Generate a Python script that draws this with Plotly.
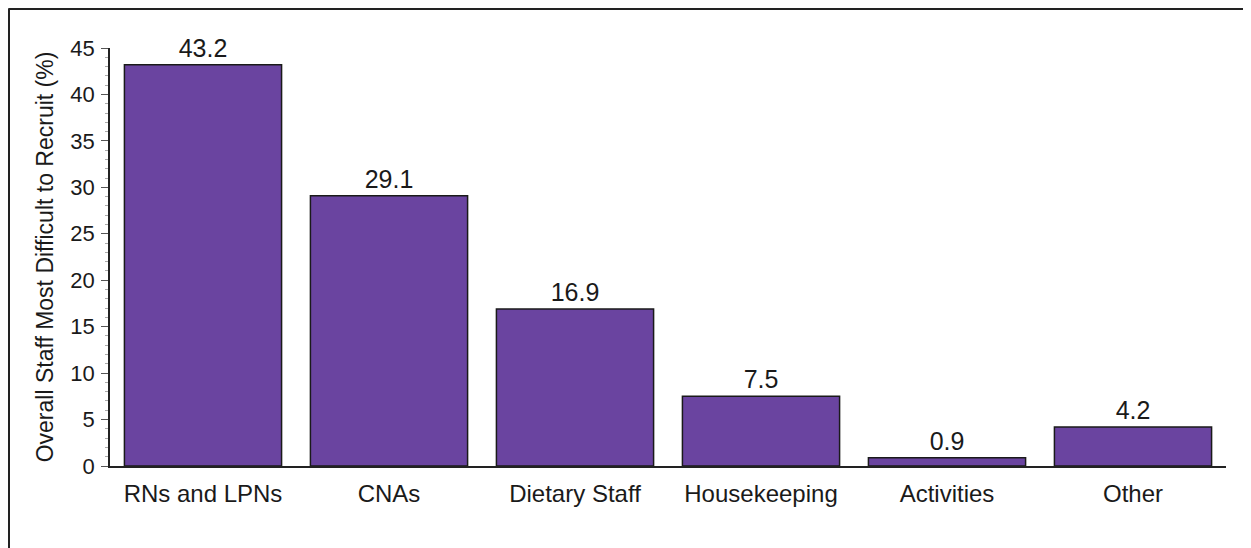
import plotly.graph_objects as go

categories = ["RNs and LPNs", "CNAs", "Dietary Staff", "Housekeeping", "Activities", "Other"]
values = [43.2, 29.1, 16.9, 7.5, 0.9, 4.2]
y_ticks = [0, 5, 10, 15, 20, 25, 30, 35, 40, 45]

FONT = "Liberation Sans, Arial, sans-serif"
W, H = 1243, 540
L, R, T, B = 102, 25, 40, 82
pw, ph = W - L - R, H - T - B

fig = go.Figure()
fig.add_trace(go.Bar(
    x=categories, y=values,
    marker=dict(color="#6A44A0", line=dict(color="#1a1a1a", width=1.5)),
    text=[f"{v:.1f}" for v in values], textposition="outside",
    textfont=dict(size=25, color="#1a1a1a", family=FONT),
    cliponaxis=False,
))

fx = (0.5 - L) / pw
fy = 1 + (T - 0.5) / ph
fig.update_layout(
    width=W, height=H,
    margin=dict(l=L, r=R, t=T, b=B, autoexpand=False),
    plot_bgcolor="white", paper_bgcolor="white",
    font=dict(family=FONT, color="#1a1a1a"),
    bargap=0.155, showlegend=False,
    shapes=[
        dict(type="line", xref="paper", yref="paper", x0=fx, x1=1.2, y0=fy, y1=fy,
             line=dict(color="#222", width=3)),
        dict(type="line", xref="paper", yref="paper", x0=fx, x1=fx, y0=-0.3, y1=fy,
             line=dict(color="#222", width=3)),
    ],
)
fig.update_xaxes(
    range=[-0.5, 5.5], showline=True, linecolor="#222", linewidth=1.5,
    ticks="", tickfont=dict(size=24), showgrid=False, ticklabelstandoff=5,
)
fig.update_yaxes(
    range=[0, 45], tickvals=y_ticks, showline=True, linecolor="#222", linewidth=1.5,
    ticks="outside", ticklen=7, tickcolor="#555", tickfont=dict(size=22),
    showgrid=False, zeroline=False, ticklabelstandoff=2,
    minor=dict(dtick=1, ticks="outside", ticklen=3, tickcolor="#aaa"),
    title=dict(text="Overall Staff Most Difficult to Recruit (%)", font=dict(size=23), standoff=10),
)
fig.write_html("out.html")
